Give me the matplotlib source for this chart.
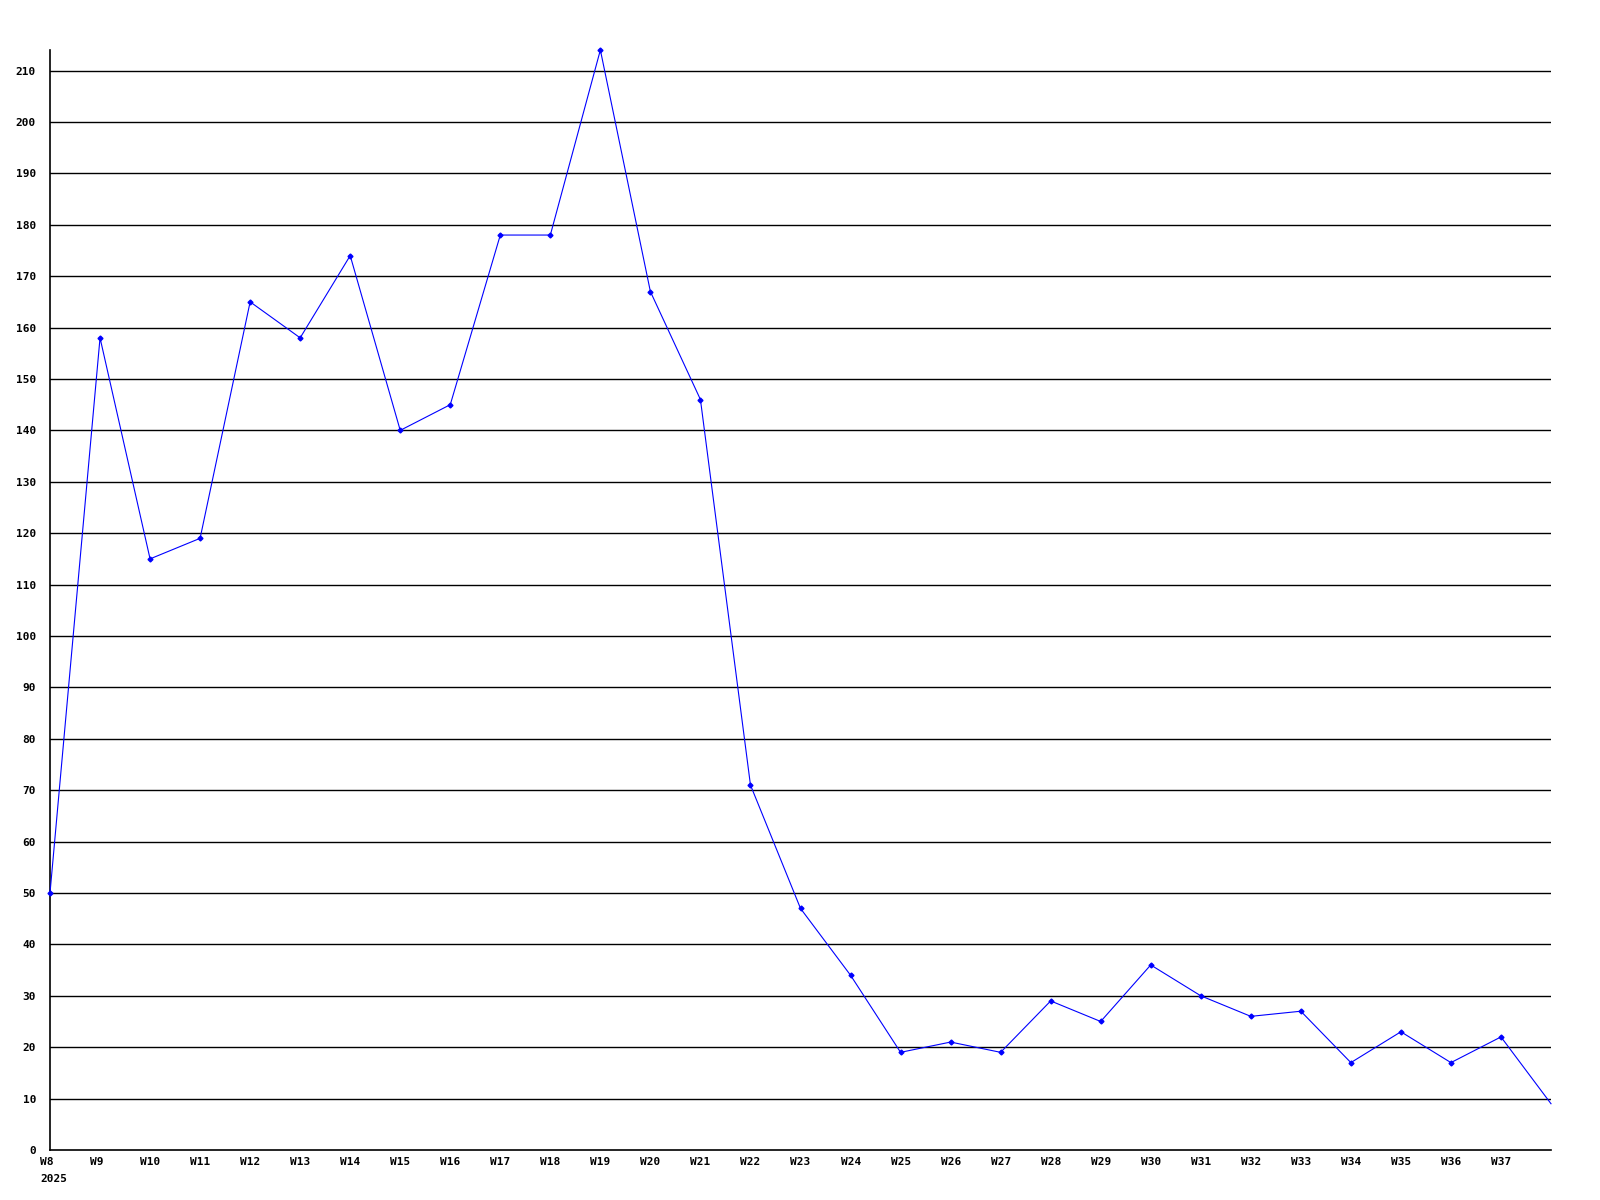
import matplotlib
matplotlib.use('Agg')
import matplotlib.pyplot as plt
import numpy as np

weeks = ['W%d' % w for w in range(8, 39)]
values = [50, 158, 115, 119, 165, 158, 174, 140, 145, 178, 178, 214, 167, 146,
          71, 47, 34, 19, 21, 19, 29, 25, 36, 30, 26, 27, 17, 23, 17, 22, 9]
yticks = list(range(0, 211, 10))
year = '2025'

fig = plt.figure(figsize=(16, 12), dpi=100)
ax = fig.add_axes([50 / 1600, 50 / 1200, 1501 / 1600, 1100 / 1200])

x = np.arange(len(values))
for yv in yticks[1:]:
    ax.axhline(yv, color='black', lw=1.0, zorder=1)
# the last week is only drawn as a line to the edge, no marker
ax.plot(x, values, color='#0000ff', lw=0.8, marker='D', ms=2.5, zorder=3,
        clip_on=False, markevery=list(range(len(values) - 1)))

ax.set_xlim(0, len(values) - 1)
ax.set_ylim(0, 214)
for s in ['top', 'right']:
    ax.spines[s].set_visible(False)
for s in ['left', 'bottom']:
    ax.spines[s].set_linewidth(1.2)

font = dict(family='DejaVu Sans Mono', weight='bold', size=8)
ax.set_yticks(yticks)
ax.set_yticklabels([str(v) for v in yticks], **font)
ax.tick_params(axis='y', length=0, pad=10)
ax.set_xticks(x[:-1])
ax.set_xticklabels(weeks[:-1], ha='left', **font)
ax.tick_params(axis='x', length=0, pad=5)
shift = matplotlib.transforms.ScaledTranslation(-10 / 100, 0, fig.dpi_scale_trans)
for lbl in ax.get_xticklabels():
    lbl.set_transform(lbl.get_transform() + shift)
ax.text(0, -0.022, year, ha='left', va='top', **font).set_transform(ax.get_xaxis_transform() + shift)

fig.savefig('out.png', dpi=100)
